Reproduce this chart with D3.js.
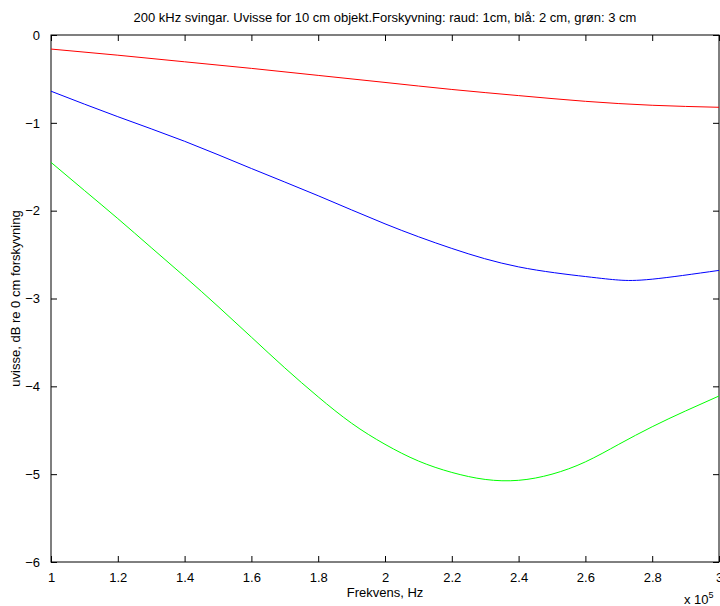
<!DOCTYPE html>
<html>
<head>
<meta charset="utf-8">
<script src="https://cdn.jsdelivr.net/npm/d3@7"></script>
<style>
  html, body { margin: 0; padding: 0; background: #fff; }
  svg { display: block; font-family: "Liberation Sans", Arial, sans-serif; }
</style>
</head>
<body>
<svg id="chart" width="720" height="606"></svg>
<script>
// ---- data (frequency in units of 1e5 Hz, values in dB) ----
const freqRed  = [1.0, 1.2, 1.4, 1.6, 1.8, 2.0, 2.2, 2.4, 2.6, 2.8, 3.0];
const redVals  = [-0.16, -0.23, -0.305, -0.38, -0.46, -0.54, -0.62, -0.69, -0.755, -0.80, -0.823];

const freqBlue = [1.0, 1.2, 1.4, 1.6, 1.8, 2.0, 2.2, 2.4, 2.6, 2.7, 2.8, 3.0];
const blueVals = [-0.64, -0.93, -1.21, -1.52, -1.83, -2.15, -2.43, -2.64, -2.75, -2.79, -2.78, -2.68];

const freqGreen = [1.0, 1.1, 1.2, 1.3, 1.4, 1.5, 1.6, 1.7, 1.8, 1.9, 2.0, 2.1, 2.2, 2.3, 2.4, 2.5, 2.6, 2.7, 2.8, 2.9, 3.0];
const greenVals = [-1.45, -1.77, -2.09, -2.42, -2.75, -3.09, -3.44, -3.79, -4.12, -4.42, -4.66, -4.85, -4.98, -5.06, -5.07, -5.00, -4.86, -4.66, -4.46, -4.28, -4.11];

const xTicks = [1, 1.2, 1.4, 1.6, 1.8, 2, 2.2, 2.4, 2.6, 2.8, 3];
const xTickLabels = ["1", "1.2", "1.4", "1.6", "1.8", "2", "2.2", "2.4", "2.6", "2.8", "3"];
const yTicks = [0, -1, -2, -3, -4, -5, -6];
const yTickLabels = ["0", "\u22121", "\u22122", "\u22123", "\u22124", "\u22125", "\u22126"];

const titleText = "200 kHz svingar. Uvisse for 10 cm objekt.Forskyvning: raud: 1cm, blå: 2 cm, grøn: 3 cm";
const xLabelText = "Frekvens, Hz";
const yLabelText = "uvisse, dB re 0 cm forskyvning";

// ---- layout ----
const L = 51, R = 719, T = 35, B = 562;
const svg = d3.select("#chart");
const x = d3.scaleLinear().domain([1, 3]).range([L, R]);
const y = d3.scaleLinear().domain([-6, 0]).range([B, T]);

const tickLen = 6;
const fs = 13;

// bottom axis (ticks inward)
const xb = svg.append("g").attr("transform", `translate(0,${B})`)
  .call(d3.axisBottom(x).tickValues(xTicks).tickSize(-tickLen).tickSizeOuter(0)
        .tickFormat((d, i) => xTickLabels[i]).tickPadding(tickLen + 5));
// top axis mirror
const xt = svg.append("g").attr("transform", `translate(0,${T})`)
  .call(d3.axisTop(x).tickValues(xTicks).tickSize(-tickLen).tickSizeOuter(0).tickFormat(""));
// left axis
const yl = svg.append("g").attr("transform", `translate(${L},0)`)
  .call(d3.axisLeft(y).tickValues(yTicks).tickSize(-tickLen).tickSizeOuter(0)
        .tickFormat((d, i) => yTickLabels[i]).tickPadding(tickLen + 5));
// right axis mirror
const yr = svg.append("g").attr("transform", `translate(${R},0)`)
  .call(d3.axisRight(y).tickValues(yTicks).tickSize(-tickLen).tickSizeOuter(0).tickFormat(""));

[xb, xt, yl, yr].forEach(g => {
  g.select(".domain").remove();
  g.selectAll(".tick line").attr("stroke", "#000").attr("stroke-width", 1);
  g.selectAll(".tick text").attr("fill", "#000").style("font-size", fs + "px")
    .style("font-family", "'Liberation Sans', Arial, sans-serif");
});

// frame
svg.append("rect").attr("x", L).attr("y", T).attr("width", R - L).attr("height", B - T)
  .attr("fill", "none").attr("stroke", "#000").attr("stroke-width", 1);

// lines
const line = d3.line().x(d => x(d[0])).y(d => y(d[1])).curve(d3.curveNatural);
const series = [
  { f: freqRed, v: redVals, c: "#ff0000" },
  { f: freqBlue, v: blueVals, c: "#0000ff" },
  { f: freqGreen, v: greenVals, c: "#00ff00" }
];
series.forEach(s => {
  svg.append("path").datum(s.f.map((f, i) => [f, s.v[i]]))
    .attr("d", line).attr("fill", "none").attr("stroke", s.c).attr("stroke-width", 1);
});

// title and labels
svg.append("text").attr("x", (L + R) / 2).attr("y", 22).attr("text-anchor", "middle")
  .style("font-size", fs + "px").text(titleText);
svg.append("text").attr("x", (L + R) / 2).attr("y", 597).attr("text-anchor", "middle")
  .style("font-size", fs + "px").text(xLabelText);
svg.append("text").attr("transform", `translate(20,${(T + B) / 2}) rotate(-90)`)
  .attr("text-anchor", "middle").style("font-size", fs + "px").text(yLabelText);

// exponent label
const ex = svg.append("text").attr("x", 684).attr("y", 604).style("font-size", fs + "px");
ex.append("tspan").text("x 10");
ex.append("tspan").attr("dy", -6).style("font-size", "9px").text("5");
</script>
</body>
</html>
